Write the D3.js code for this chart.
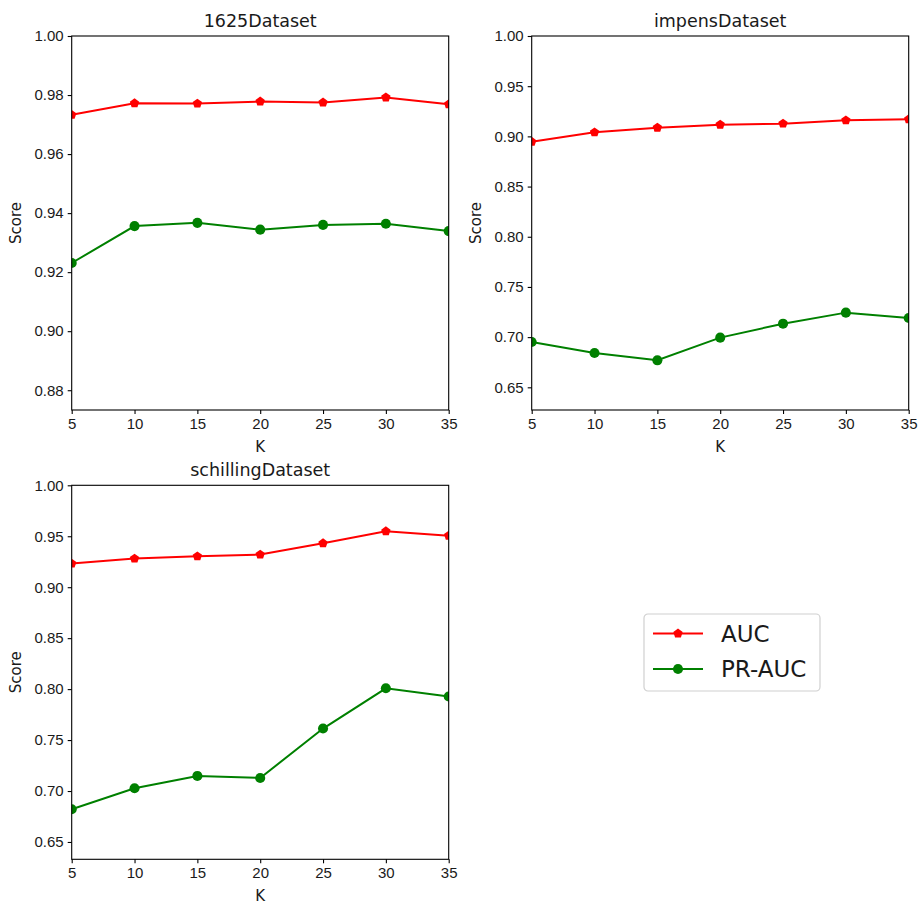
<!DOCTYPE html>
<html>
<head>
<meta charset="utf-8">
<script src="https://cdn.jsdelivr.net/npm/d3@7"></script>
<style>
	body { margin: 0; background: #fff; }
	svg { display: block; font-family: 'DejaVu Sans', sans-serif; }
	.axis text { font-size: 15px; fill: #1a1a1a; }
	.axis path, .axis line { stroke: #000; stroke-width: 1.1px; }
</style>
</head>
<body>
<svg id="chart" width="919" height="901"></svg>
<script>
// values
var kValues = [5, 10, 15, 20, 25, 30, 35];
var seriesNames = ['AUC', 'PR-AUC'];
var datasetNames = ['1625Dataset', 'impensDataset', 'schillingDataset'];

var auc1625 = [0.9733, 0.9772, 0.9771, 0.9778, 0.9775, 0.9792, 0.9769];
var prAuc1625 = [0.9231, 0.9356, 0.9367, 0.9344, 0.9360, 0.9364, 0.9339];

var aucImpens = [0.8947, 0.9040, 0.9087, 0.9117, 0.9127, 0.9160, 0.9170];
var prAucImpens = [0.6952, 0.6842, 0.6769, 0.6995, 0.7134, 0.7244, 0.7191];

var aucSchilling = [0.9232, 0.9281, 0.9303, 0.9320, 0.9431, 0.9549, 0.9506];
var prAucSchilling = [0.6821, 0.7027, 0.7148, 0.7128, 0.7613, 0.8008, 0.7927];

var xTicks = [5, 10, 15, 20, 25, 30, 35];
var yTicks1625 = [0.88, 0.90, 0.92, 0.94, 0.96, 0.98, 1.00];
var yTicksOther = [0.65, 0.70, 0.75, 0.80, 0.85, 0.90, 0.95, 1.00];
var yMin1625 = 0.8733, yMinImpens = 0.6274, yMinSchilling = 0.633;

(function() {

	'use strict';

	var svg = d3.select('#chart'),
		colors = ['#ff0000', '#008000'],
		panelW = 377,
		panelH = 374;

	// pentagon marker, point up
	var pentagon = {
		draw: function(context, size) {
			var r = Math.sqrt(size / 2.378);
			for (var i = 0; i < 5; i++) {
				var a = -Math.PI / 2 + i * 2 * Math.PI / 5,
					x = r * Math.cos(a),
					y = r * Math.sin(a);
				if (i === 0) context.moveTo(x, y); else context.lineTo(x, y);
			}
			context.closePath();
		}
	};
	var markers = [d3.symbol().type(pentagon).size(58), d3.symbol().type(d3.symbolCircle).size(80)];

	var panels = [
		{ name: datasetNames[0], x: 71.7, y: 36, yMin: yMin1625, ticks: yTicks1625, series: [auc1625, prAuc1625] },
		{ name: datasetNames[1], x: 531.7, y: 36, yMin: yMinImpens, ticks: yTicksOther, series: [aucImpens, prAucImpens] },
		{ name: datasetNames[2], x: 71.7, y: 485.3, yMin: yMinSchilling, ticks: yTicksOther, series: [aucSchilling, prAucSchilling] }
	];

	var drawPanel = function(p, idx) {
		var g = svg.append('g').attr('transform', 'translate(' + p.x + ',' + p.y + ')');

		var xScale = d3.scaleLinear().domain([5, 35]).range([0, panelW]),
			yScale = d3.scaleLinear().domain([p.yMin, 1.0]).range([panelH, 0]);

		var clipId = 'clip' + idx;
		g.append('clipPath').attr('id', clipId)
			.append('rect').attr('width', panelW).attr('height', panelH);

		var plot = g.append('g').attr('clip-path', 'url(#' + clipId + ')');

		var line = d3.line()
			.x(function(d, i) { return xScale(kValues[i]); })
			.y(function(d) { return yScale(d); });

		p.series.forEach(function(values, s) {
			plot.append('path')
				.attr('d', line(values))
				.attr('fill', 'none')
				.attr('stroke', colors[s])
				.attr('stroke-width', 2);

			plot.selectAll('.m' + s)
				.data(values)
				.enter()
				.append('path')
				.attr('transform', function(d, i) {
					return 'translate(' + xScale(kValues[i]) + ',' + yScale(d) + ')';
				})
				.attr('d', markers[s]())
				.attr('fill', colors[s]);
		});

		// axes
		var xAxis = d3.axisBottom(xScale).tickValues(xTicks).tickSize(4).tickPadding(4),
			yAxis = d3.axisLeft(yScale).tickValues(p.ticks).tickFormat(d3.format('.2f')).tickSize(4).tickPadding(4);

		g.append('g').attr('class', 'axis')
			.attr('transform', 'translate(0,' + panelH + ')')
			.call(xAxis)
			.call(function(a) { a.select('.domain').remove(); });

		g.append('g').attr('class', 'axis')
			.call(yAxis)
			.call(function(a) { a.select('.domain').remove(); });

		// frame
		g.append('rect')
			.attr('width', panelW)
			.attr('height', panelH)
			.attr('fill', 'none')
			.attr('stroke', '#000')
			.attr('stroke-width', 1.1);

		g.append('text')
			.attr('x', panelW / 2)
			.attr('y', -9)
			.attr('text-anchor', 'middle')
			.style('font-size', '17.5px')
			.style('fill', '#1a1a1a')
			.text(p.name);

		g.append('text')
			.attr('x', panelW / 2)
			.attr('y', panelH + 42)
			.attr('text-anchor', 'middle')
			.style('font-size', '15px')
			.style('fill', '#1a1a1a')
			.text('K');

		g.append('text')
			.attr('transform', 'translate(' + (-51) + ',' + (panelH / 2) + ') rotate(-90)')
			.attr('text-anchor', 'middle')
			.style('font-size', '15px')
			.style('fill', '#1a1a1a')
			.text('Score');
	};

	panels.forEach(drawPanel);

	// legend
	var legend = svg.append('g').attr('transform', 'translate(644,614)');
	legend.append('rect')
		.attr('width', 176)
		.attr('height', 77)
		.attr('rx', 4)
		.attr('fill', '#fff')
		.attr('stroke', '#d0d0d0')
		.attr('stroke-width', 1.2);

	seriesNames.forEach(function(name, s) {
		var row = legend.append('g').attr('transform', 'translate(0,' + (19.5 + s * 35.5) + ')');
		row.append('line')
			.attr('x1', 9).attr('x2', 59)
			.attr('stroke', colors[s])
			.attr('stroke-width', 2);
		row.append('path')
			.attr('transform', 'translate(34,0)')
			.attr('d', markers[s]())
			.attr('fill', colors[s]);
		row.append('text')
			.attr('x', 77)
			.attr('dy', '0.35em')
			.style('font-size', '23px')
			.style('fill', '#1a1a1a')
			.text(name);
	});

})();
</script>
</body>
</html>
